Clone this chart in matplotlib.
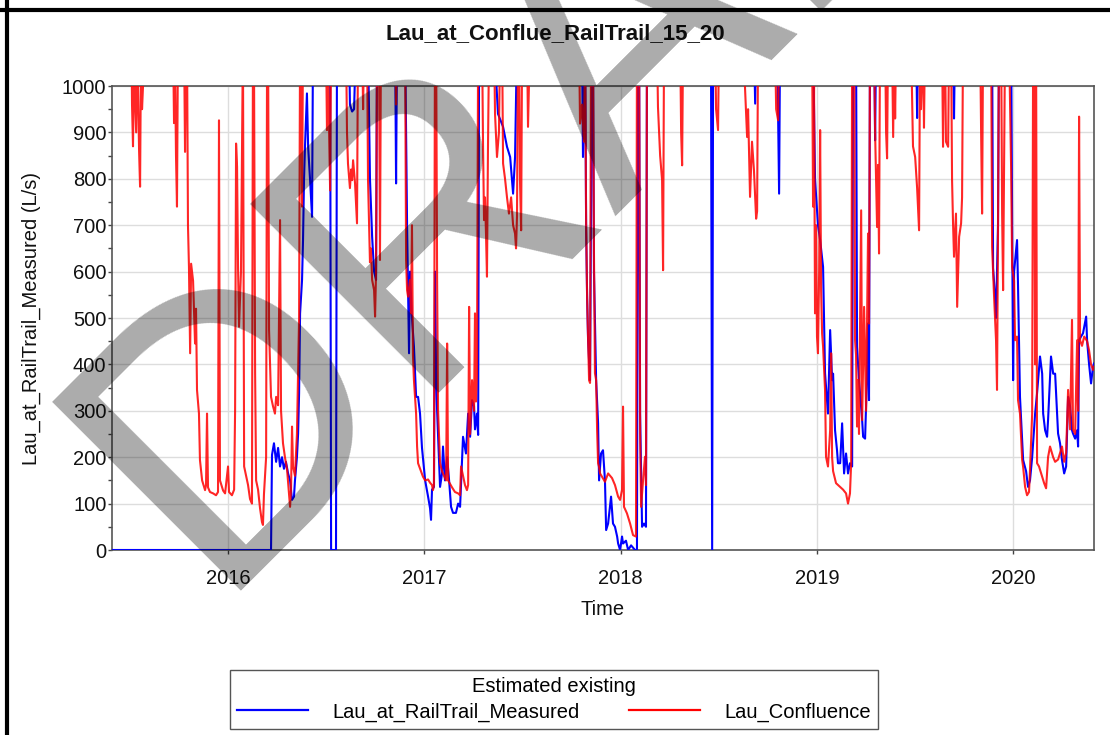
import matplotlib
matplotlib.use("Agg")
import matplotlib.pyplot as plt
from matplotlib.lines import Line2D
from matplotlib.ticker import MultipleLocator

plt.rcParams['font.family'] = ['Liberation Sans', 'DejaVu Sans']

title = "Lau_at_Conflue_RailTrail_15_20"
y_label = "Lau_at_RailTrail_Measured (L/s)"
x_label = "Time"
legend_title = "Estimated existing"
series_names = ["Lau_at_RailTrail_Measured", "Lau_Confluence"]
year_ticks = [2016, 2017, 2018, 2019, 2020]

# Lau_Confluence (red) : time in decimal years, flow in L/s (values > 1000 run off the top)
red_years = [
    2015.409, 2015.506, 2015.511, 2015.516, 2015.521, 2015.532, 2015.537, 2015.547, 2015.552, 2015.557,
    2015.562, 2015.567, 2015.572, 2015.720, 2015.725, 2015.730, 2015.735, 2015.740, 2015.745, 2015.776,
    2015.781, 2015.786, 2015.791, 2015.796, 2015.801, 2015.807, 2015.812, 2015.822, 2015.832, 2015.837,
    2015.842, 2015.852, 2015.857, 2015.868, 2015.883, 2015.888, 2015.893, 2015.898, 2015.908, 2015.924,
    2015.939, 2015.949, 2015.954, 2015.959, 2015.975, 2015.985, 2016.000, 2016.005, 2016.020, 2016.031,
    2016.036, 2016.041, 2016.046, 2016.051, 2016.056, 2016.066, 2016.076, 2016.082, 2016.092, 2016.102,
    2016.112, 2016.122, 2016.127, 2016.132, 2016.138, 2016.143, 2016.153, 2016.163, 2016.173, 2016.178,
    2016.183, 2016.194, 2016.199, 2016.204, 2016.209, 2016.219, 2016.229, 2016.239, 2016.245, 2016.255,
    2016.265, 2016.270, 2016.280, 2016.290, 2016.301, 2016.311, 2016.316, 2016.321, 2016.326, 2016.331,
    2016.341, 2016.351, 2016.362, 2016.367, 2016.372, 2016.377, 2016.382, 2016.499, 2016.504, 2016.509,
    2016.520, 2016.525, 2016.601, 2016.606, 2016.611, 2016.621, 2016.627, 2016.632, 2016.637, 2016.647,
    2016.657, 2016.662, 2016.683, 2016.688, 2016.693, 2016.708, 2016.713, 2016.723, 2016.728, 2016.734,
    2016.744, 2016.749, 2016.754, 2016.759, 2016.769, 2016.774, 2016.779, 2016.851, 2016.856, 2016.861,
    2016.902, 2016.907, 2016.912, 2016.917, 2016.927, 2016.932, 2016.937, 2016.942, 2016.947, 2016.958,
    2016.963, 2016.968, 2016.983, 2016.993, 2017.004, 2017.019, 2017.029, 2017.039, 2017.044, 2017.049,
    2017.054, 2017.060, 2017.065, 2017.070, 2017.080, 2017.090, 2017.100, 2017.111, 2017.116, 2017.121,
    2017.141, 2017.156, 2017.172, 2017.182, 2017.187, 2017.197, 2017.207, 2017.217, 2017.223, 2017.228,
    2017.233, 2017.243, 2017.253, 2017.258, 2017.263, 2017.268, 2017.274, 2017.294, 2017.299, 2017.304,
    2017.309, 2017.314, 2017.319, 2017.324, 2017.330, 2017.355, 2017.360, 2017.370, 2017.380, 2017.386,
    2017.396, 2017.401, 2017.411, 2017.421, 2017.431, 2017.442, 2017.452, 2017.462, 2017.467, 2017.472,
    2017.477, 2017.482, 2017.487, 2017.493, 2017.498, 2017.523, 2017.528, 2017.538, 2017.788, 2017.793,
    2017.803, 2017.813, 2017.819, 2017.824, 2017.829, 2017.834, 2017.839, 2017.844, 2017.849, 2017.859,
    2017.864, 2017.869, 2017.875, 2017.880, 2017.885, 2017.890, 2017.895, 2017.920, 2017.936, 2017.956,
    2017.971, 2017.987, 2017.997, 2018.007, 2018.012, 2018.017, 2018.032, 2018.048, 2018.063, 2018.078,
    2018.083, 2018.094, 2018.099, 2018.104, 2018.114, 2018.124, 2018.129, 2018.134, 2018.185, 2018.190,
    2018.201, 2018.211, 2018.216, 2018.221, 2018.303, 2018.308, 2018.313, 2018.318, 2018.481, 2018.486,
    2018.496, 2018.501, 2018.623, 2018.634, 2018.644, 2018.649, 2018.659, 2018.669, 2018.679, 2018.690,
    2018.695, 2018.700, 2018.786, 2018.792, 2018.802, 2018.807, 2018.975, 2018.980, 2018.985, 2018.990,
    2018.995, 2019.000, 2019.005, 2019.011, 2019.016, 2019.021, 2019.026, 2019.031, 2019.041, 2019.046,
    2019.056, 2019.067, 2019.072, 2019.077, 2019.082, 2019.097, 2019.118, 2019.133, 2019.148, 2019.158,
    2019.168, 2019.174, 2019.179, 2019.189, 2019.194, 2019.199, 2019.204, 2019.209, 2019.214, 2019.225,
    2019.230, 2019.240, 2019.250, 2019.260, 2019.265, 2019.270, 2019.291, 2019.296, 2019.301, 2019.306,
    2019.311, 2019.316, 2019.321, 2019.347, 2019.352, 2019.357, 2019.362, 2019.382, 2019.388, 2019.393,
    2019.398, 2019.403, 2019.479, 2019.489, 2019.500, 2019.510, 2019.520, 2019.525, 2019.530, 2019.540,
    2019.545, 2019.550, 2019.637, 2019.642, 2019.647, 2019.652, 2019.657, 2019.668, 2019.673, 2019.683,
    2019.688, 2019.693, 2019.698, 2019.708, 2019.714, 2019.724, 2019.734, 2019.739, 2019.744, 2019.831,
    2019.836, 2019.841, 2019.846, 2019.887, 2019.892, 2019.902, 2019.912, 2019.917, 2019.922, 2019.927,
    2019.938, 2019.943, 2019.948, 2019.958, 2019.978, 2019.989, 2019.994, 2020.004, 2020.009, 2020.019,
    2020.024, 2020.034, 2020.045, 2020.050, 2020.060, 2020.070, 2020.080, 2020.085, 2020.096, 2020.101,
    2020.106, 2020.111, 2020.116, 2020.121, 2020.131, 2020.147, 2020.157, 2020.167, 2020.177, 2020.187,
    2020.203, 2020.213, 2020.228, 2020.248, 2020.259, 2020.269, 2020.279, 2020.289, 2020.299, 2020.304,
    2020.315, 2020.325, 2020.330, 2020.335, 2020.340, 2020.350, 2020.361, 2020.376, 2020.386, 2020.396,
    2020.406, 2020.411,
]
red_flow = [
    1200, 1200, 960, 870, 1050, 900, 1100, 860, 783, 1100,
    950, 1000, 1100, 1100, 920, 1050, 850, 740, 1100, 1100,
    858, 1100, 1100, 700, 610, 424, 617, 580, 445, 520,
    345, 294, 194, 150, 129, 140, 294, 135, 125, 122,
    118, 125, 926, 150, 128, 122, 180, 125, 118, 130,
    300, 876, 826, 610, 481, 600, 1100, 180, 160, 140,
    110, 100, 1100, 1100, 380, 150, 130, 90, 60, 54,
    120, 200, 1100, 1100, 474, 330, 310, 294, 330, 312,
    711, 300, 230, 200, 172, 120, 93, 130, 266, 180,
    160, 250, 500, 1100, 1100, 740, 1100, 1100, 905, 1050,
    775, 1100, 1100, 900, 833, 780, 820, 797, 840, 790,
    704, 1100, 1100, 950, 1100, 1100, 800, 620, 650, 582,
    560, 503, 600, 1100, 1100, 625, 1100, 1100, 960, 1100,
    1100, 625, 560, 546, 582, 510, 700, 420, 366, 294,
    223, 187, 170, 158, 150, 152, 145, 140, 129, 140,
    1100, 1100, 582, 300, 187, 170, 160, 150, 445, 150,
    135, 125, 122, 118, 180, 160, 140, 129, 140, 524,
    250, 366, 300, 510, 320, 381, 1100, 1100, 869, 711,
    760, 682, 589, 861, 1100, 1100, 940, 847, 900, 1100,
    1100, 833, 800, 760, 725, 760, 700, 682, 650, 720,
    1100, 1100, 800, 689, 1100, 1100, 912, 1100, 1100, 919,
    960, 880, 1100, 704, 546, 452, 366, 360, 1100, 1100,
    639, 381, 366, 258, 187, 179, 165, 147, 165, 155,
    140, 115, 108, 130, 309, 93, 79, 57, 32, 29,
    1100, 1100, 251, 93, 150, 201, 140, 1100, 1100, 955,
    850, 797, 603, 1100, 1100, 900, 829, 1100, 1100, 950,
    905, 1100, 1100, 990, 890, 950, 761, 880, 818, 714,
    730, 1100, 1100, 950, 926, 1100, 1100, 740, 1000, 510,
    700, 460, 424, 600, 905, 560, 467, 438, 345, 201,
    180, 258, 424, 200, 170, 144, 136, 130, 122, 100,
    122, 187, 1100, 1100, 452, 420, 266, 366, 250, 732,
    280, 524, 300, 682, 488, 1100, 1100, 900, 800, 696,
    830, 639, 1100, 1100, 900, 844, 1100, 1100, 890, 1100,
    930, 1100, 1100, 870, 847, 780, 689, 1100, 950, 1100,
    910, 1100, 1100, 869, 1100, 1100, 880, 869, 1100, 1100,
    797, 704, 632, 725, 524, 675, 704, 760, 1100, 1100,
    900, 725, 1100, 1100, 653, 546, 452, 345, 680, 1100,
    1100, 725, 560, 1100, 1100, 818, 610, 580, 452, 460,
    323, 294, 194, 179, 136, 118, 125, 172, 294, 1100,
    1100, 400, 1100, 187, 180, 158, 144, 133, 200, 223,
    200, 190, 195, 223, 190, 210, 345, 260, 496, 260,
    250, 452, 300, 934, 452, 440, 460, 450, 430, 400,
    388, 395,
]

# Lau_at_RailTrail_Measured (blue)
blue_years = [
    2015.409, 2016.219, 2016.224, 2016.234, 2016.245, 2016.255, 2016.265, 2016.275, 2016.285, 2016.295,
    2016.306, 2016.316, 2016.326, 2016.336, 2016.341, 2016.351, 2016.357, 2016.362, 2016.367, 2016.377,
    2016.382, 2016.387, 2016.392, 2016.402, 2016.408, 2016.418, 2016.428, 2016.433, 2016.520, 2016.525,
    2016.550, 2016.555, 2016.616, 2016.621, 2016.632, 2016.642, 2016.652, 2016.713, 2016.723, 2016.734,
    2016.744, 2016.754, 2016.759, 2016.851, 2016.856, 2016.861, 2016.902, 2016.912, 2016.922, 2016.927,
    2016.937, 2016.947, 2016.958, 2016.968, 2016.978, 2016.988, 2017.004, 2017.019, 2017.029, 2017.034,
    2017.039, 2017.049, 2017.054, 2017.060, 2017.065, 2017.080, 2017.090, 2017.095, 2017.105, 2017.116,
    2017.126, 2017.136, 2017.146, 2017.161, 2017.172, 2017.182, 2017.197, 2017.212, 2017.223, 2017.233,
    2017.243, 2017.253, 2017.258, 2017.268, 2017.274, 2017.279, 2017.355, 2017.375, 2017.401, 2017.421,
    2017.437, 2017.452, 2017.462, 2017.472, 2017.803, 2017.808, 2017.819, 2017.824, 2017.829, 2017.834,
    2017.844, 2017.854, 2017.859, 2017.864, 2017.875, 2017.885, 2017.890, 2017.900, 2017.910, 2017.920,
    2017.926, 2017.936, 2017.951, 2017.961, 2017.971, 2017.982, 2017.987, 2017.997, 2018.007, 2018.012,
    2018.027, 2018.038, 2018.053, 2018.073, 2018.083, 2018.089, 2018.094, 2018.099, 2018.109, 2018.119,
    2018.129, 2018.134, 2018.460, 2018.466, 2018.471, 2018.679, 2018.685, 2018.690, 2018.797, 2018.807,
    2018.812, 2018.980, 2018.990, 2019.005, 2019.016, 2019.031, 2019.041, 2019.056, 2019.067, 2019.077,
    2019.082, 2019.092, 2019.102, 2019.107, 2019.118, 2019.128, 2019.138, 2019.148, 2019.158, 2019.168,
    2019.179, 2019.184, 2019.199, 2019.204, 2019.214, 2019.230, 2019.235, 2019.245, 2019.255, 2019.260,
    2019.265, 2019.270, 2019.291, 2019.296, 2019.301, 2019.505, 2019.510, 2019.515, 2019.693, 2019.698,
    2019.703, 2019.892, 2019.897, 2019.907, 2019.912, 2019.922, 2019.927, 2019.989, 2019.994, 2019.999,
    2020.004, 2020.019, 2020.024, 2020.034, 2020.045, 2020.050, 2020.065, 2020.075, 2020.085, 2020.096,
    2020.111, 2020.121, 2020.136, 2020.147, 2020.152, 2020.162, 2020.172, 2020.177, 2020.192, 2020.203,
    2020.213, 2020.223, 2020.228, 2020.238, 2020.248, 2020.259, 2020.269, 2020.279, 2020.289, 2020.299,
    2020.304, 2020.315, 2020.325, 2020.330, 2020.335, 2020.345, 2020.355, 2020.371, 2020.376, 2020.386,
    2020.396, 2020.406, 2020.411,
]
blue_flow = [
    0, 0, 205, 230, 190, 220, 180, 200, 175, 190,
    165, 150, 108, 115, 150, 200, 251, 338, 510, 582,
    668, 797, 869, 984, 869, 797, 718, 1100, 1100, 0,
    0, 1100, 1100, 960, 945, 950, 1100, 1100, 800, 675,
    600, 582, 1100, 1100, 790, 1100, 1100, 700, 424, 600,
    500, 438, 330, 330, 294, 220, 150, 115, 90, 65,
    130, 136, 600, 381, 300, 136, 165, 223, 150, 200,
    150, 93, 80, 80, 100, 93, 244, 208, 294, 244,
    323, 310, 260, 294, 248, 1100, 1100, 940, 912, 869,
    847, 768, 847, 1100, 1100, 847, 1100, 700, 546, 452,
    366, 1100, 1100, 600, 366, 273, 150, 208, 215, 150,
    43, 57, 115, 57, 50, 29, 14, 0, 29, 14,
    20, 0, 10, 0, 0, 1100, 1100, 294, 50, 57,
    50, 1100, 1100, 0, 1100, 1100, 962, 1100, 1100, 768,
    1100, 1100, 800, 700, 668, 610, 381, 294, 474, 366,
    380, 258, 215, 187, 187, 273, 165, 208, 165, 187,
    180, 1100, 1100, 438, 366, 280, 244, 240, 381, 488,
    323, 1100, 1100, 883, 1100, 1100, 931, 1100, 1100, 930,
    1100, 1100, 608, 546, 500, 700, 1100, 1100, 700, 366,
    600, 668, 570, 330, 237, 194, 170, 136, 150, 200,
    294, 338, 417, 380, 294, 258, 244, 280, 417, 380,
    380, 294, 251, 230, 194, 165, 180, 330, 310, 258,
    251, 240, 258, 223, 452, 460, 467, 503, 450, 400,
    359, 395, 402,
]

fig = plt.figure(figsize=(11.10, 7.35), dpi=100)
ax = fig.add_axes([112 / 1110, 1 - 550 / 735, (1094 - 112) / 1110, (550 - 86) / 735])

ax.plot(blue_years, blue_flow, color='#0000ff', lw=1.5, zorder=3)
ax.plot(red_years, red_flow, color='#ff0000', lw=1.5, alpha=0.85, zorder=4)

ax.set_xlim(2015.409, 2020.411)
ax.set_ylim(0, 1000)
ax.set_xticks(year_ticks)
ax.set_xticklabels([str(y) for y in year_ticks])
ax.yaxis.set_major_locator(MultipleLocator(100))
ax.yaxis.set_minor_locator(MultipleLocator(50))
ax.grid(True, which='major', color='#dddddd', lw=1.0, zorder=0)
ax.set_axisbelow(True)
ax.tick_params(axis='y', which='both', direction='out', length=3, width=1, color='#444444',
               labelsize=14.5, pad=1, labelcolor='#111111')
ax.tick_params(axis='x', which='major', direction='out', length=3, width=1, color='#444444',
               labelsize=14.5, pad=11, labelcolor='#111111')
for s in ax.spines.values():
    s.set_color('#555555')
    s.set_linewidth(1.2)

ax.set_xlabel(x_label, fontsize=14.5, labelpad=8, color='#111111')
ax.set_ylabel(y_label, fontsize=14.5, color='#111111')
ax.yaxis.set_label_coords(-0.072, 0.5)

fig.text(0.5, 1 - 39 / 735, title, ha='center', va='baseline', fontsize=16,
         fontweight='bold', color='#111111')

handles = [Line2D([], [], color='#0000ff', lw=1.6), Line2D([], [], color='#ff0000', lw=1.6)]
leg = fig.legend(handles, series_names, loc='center', bbox_to_anchor=(554 / 1110, 1 - 699.5 / 735),
                 ncol=2, title=legend_title, fontsize=14.5, title_fontsize=14.5, frameon=True,
                 fancybox=False, edgecolor='#555555', framealpha=1, borderpad=0.38,
                 handlelength=3.5, handletextpad=1.2, columnspacing=2.5, labelspacing=0.3)
leg.get_frame().set_linewidth(1.0)

# DRAFT watermark
fig.text(0.188, 0.196, "DRAFT", rotation=45, rotation_mode='anchor', ha='left', va='baseline',
         fontsize=280, color='black', alpha=0.33, zorder=100)

# figure border (top and left)
fig.add_artist(Line2D([0, 1], [1 - 9.5 / 735] * 2, color='black', lw=3, transform=fig.transFigure))
fig.add_artist(Line2D([7 / 1110] * 2, [0, 1], color='black', lw=3, transform=fig.transFigure))

fig.savefig("out.png", dpi=100)
